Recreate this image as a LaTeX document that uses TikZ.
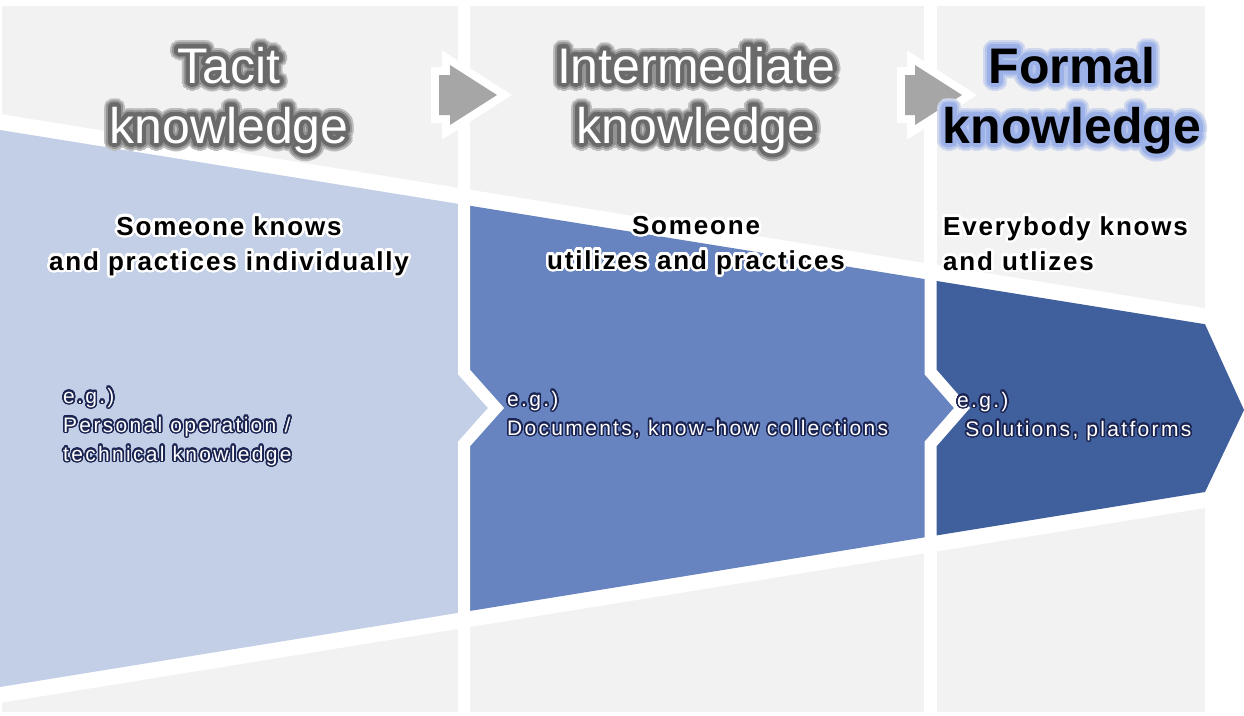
\documentclass[tikz,border=0pt]{standalone}
\usepackage{fontspec}
\setmainfont{Liberation Sans}
\usepackage{xcolor}
\usepackage{tikz}
\usepackage{contour}
\usetikzlibrary{calc}

\definecolor{colgray}{HTML}{F2F2F2}
\definecolor{tacitblue}{HTML}{C2CFE6}
\definecolor{interblue}{HTML}{6784C0}
\definecolor{formalblue}{HTML}{3F5F9D}
\definecolor{arrowgray}{HTML}{A6A6A6}
\definecolor{titleglow}{HTML}{6A6A6A}
\definecolor{formalglow}{HTML}{9CB1E8}
\definecolor{exglow}{HTML}{1C2452}

% one outline round a text
\newcommand{\glow}[3]{{\contourlength{#1}\contour[32]{#2}{#3}}}
% soft outline for the titles: a wide pale ring under a narrow dark one
\newcommand{\softglow}[2]{\rlap{\contourlength{8pt}\contour[32]{#1!40!colgray}{#2}}\rlap{\contourlength{6pt}\contour[32]{#1!70!colgray}{#2}}\glow{4pt}{#1}{#2}}

\begin{document}
\begin{tikzpicture}[x=1pt, y=-1pt,
  column/.style={fill=colgray},
  gapline/.style={draw=white, line width=12pt, line join=miter},
  steparrow/.style={fill=arrowgray, preaction={draw=white, line width=16pt, line join=miter}},
  title/.style={font=\fontsize{50}{60}\selectfont, align=center, inner sep=0pt, anchor=base},
  subtitle/.style={font=\fontsize{26}{35}\selectfont\bfseries\addfontfeature{LetterSpace=7}, inner sep=0pt},
  example/.style={font=\fontsize{21}{29}\selectfont\addfontfeature{LetterSpace=11}, text=white, align=left, inner sep=0pt, anchor=base west}]
  \useasboundingbox (0,0) rectangle (1244,715);
  \fill[white] (0,0) rectangle (1244,715);
  % gray columns
  \fill[column] (2,6) rectangle (458,712);
  \fill[column] (470,6) rectangle (924,712);
  \fill[column] (937,6) rectangle (1205,712);
  % white band round the blue shape
  \fill[white] (0,114) -- (1244,314.5) -- (1244,501.7) -- (0,703) -- cycle;
  % blue segments
  \fill[tacitblue] (0,130) -- (464,204.8) -- (464,372) -- (496,408) -- (464,444) -- (464,611.9) -- (0,687) -- cycle;
  \fill[interblue] (464,204.8) -- (930.5,280) -- (930.5,372) -- (962,408) -- (930.5,444) -- (930.5,536.4) -- (464,611.9) -- (464,444) -- (496,408) -- (464,372) -- cycle;
  \fill[formalblue] (930.5,280) -- (1205,324.2) -- (1244,410) -- (1205,492) -- (930.5,536.4) -- (930.5,444) -- (962,408) -- (930.5,372) -- cycle;
  \draw[gapline] (464,0) -- (464,372) -- (496,408) -- (464,444) -- (464,715);
  \draw[gapline] (930.5,0) -- (930.5,372) -- (962,408) -- (930.5,444) -- (930.5,715);
  % step arrows
  \path[steparrow] (439,75) -- (450,75) -- (450,65) -- (497,95) -- (450,125) -- (450,115) -- (439,115) -- cycle;
  \path[steparrow] (905,75) -- (915,75) -- (915,65) -- (962,95) -- (915,125) -- (915,115) -- (905,115) -- cycle;
  % titles
  \node[title, text=white] (tacit) at (229,143) {\softglow{titleglow}{Tacit}\\\softglow{titleglow}{knowledge}};
  \node[title, text=white] (inter) at (696,143) {\softglow{titleglow}{Intermediate}\\\softglow{titleglow}{knowledge}};
  \node[title, text=black, font=\fontsize{50}{60}\selectfont\bfseries] (formal) at (1072,143) {\softglow{formalglow}{Formal}\\\softglow{formalglow}{knowledge}};
  % who knows
  \node[subtitle, align=center, anchor=base] (tacitsub) at (229,270) {\glow{2.5pt}{white}{Someone knows}\\\glow{2.5pt}{white}{and practices individually}};
  \node[subtitle, align=center, anchor=base] (intersub) at (696,269) {\glow{2.5pt}{white}{Someone}\\\glow{2.5pt}{white}{utilizes and practices}};
  \node[subtitle, align=left, anchor=base west] (formalsub) at (943,270) {\glow{2.5pt}{white}{Everybody knows}\\\glow{2.5pt}{white}{and utlizes}};
  % examples
  \node[example] (tacitex) at (63,461) {\glow{1.5pt}{exglow}{e.g.)}\\\glow{1.5pt}{exglow}{Personal operation /}\\\glow{1.5pt}{exglow}{technical knowledge}};
  \node[example] (interex) at (507,435) {\glow{1.5pt}{exglow}{e.g.)}\\\glow{1.5pt}{exglow}{Documents, know-how collections}};
  \node[example] (formalex) at (957,436) {\glow{1.5pt}{exglow}{e.g.)}\\\glow{1.5pt}{exglow}{\ Solutions, platforms}};
\end{tikzpicture}
\end{document}
